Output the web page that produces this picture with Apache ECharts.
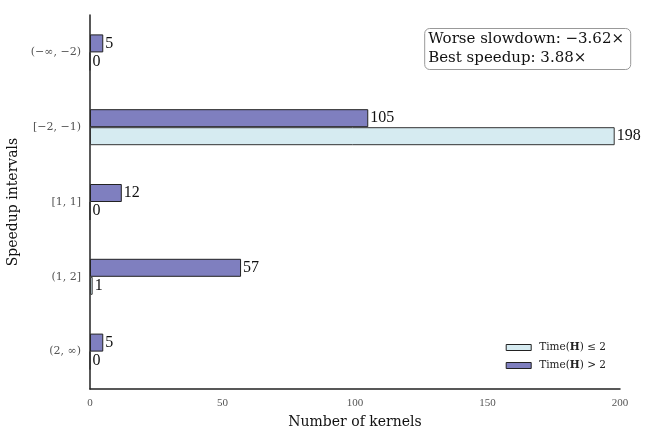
<!DOCTYPE html>
<html><head><meta charset="utf-8">
<script src="https://cdn.jsdelivr.net/npm/echarts@6/dist/echarts.min.js"></script>
<style>html,body{margin:0;padding:0;background:#fff}#c{width:645px;height:434px}</style>
</head><body><div id="c"></div>
<script>
const categories = ['(−∞, −2)', '[−2, −1)', '[1, 1]', '(1, 2]', '(2, ∞)'];
const seriesLow = [0, 198, 0, 1, 0];   // Time(H) <= 2
const seriesHigh = [5, 105, 12, 57, 5]; // Time(H) > 2
const xTicks = [0, 50, 100, 150, 200];
const names = ['Time(H) ≤ 2', 'Time(H) > 2'];

const serif = "'Liberation Serif', 'DejaVu Serif', serif";
const wide = "'DejaVu Serif', 'Liberation Serif', serif";
const chart = echarts.init(document.getElementById('c'), null, {renderer: 'canvas'});
const labelStyle = {show: true, position: 'right', distance: 2, fontFamily: serif, fontSize: 16, color: '#111'};
chart.setOption({
  animation: false,
  backgroundColor: '#fff',
  grid: {left: 90, right: 25, top: 15, bottom: 45, containLabel: false, outerBoundsMode: 'none'},
  title: {
    text: 'Worse slowdown: −3.62×\nBest speedup: 3.88×',
    right: 14, top: 28,
    borderColor: '#999', borderWidth: 1, borderRadius: 5,
    padding: [2, 7, 2, 4],
    textStyle: {fontFamily: wide, fontSize: 15, fontWeight: 'normal', color: '#111', lineHeight: 19}
  },
  legend: {
    data: names, orient: 'vertical', right: 34, bottom: 58,
    icon: 'rect',
    itemWidth: 25, itemHeight: 6, itemGap: 7,
    itemStyle: {borderWidth: 1, borderColor: '#222'},
    formatter: n => n.replace('H', '{b|H}'),
    textStyle: {fontFamily: wide, fontSize: 10.5, color: '#222', padding: [0, 0, 0, 3],
      rich: {b: {fontFamily: wide, fontSize: 10.5, fontWeight: 'bold', color: '#222'}}}
  },
  xAxis: {
    type: 'value', min: 0, max: 200, interval: 50,
    name: 'Number of kernels', nameLocation: 'middle', nameGap: 26,
    nameTextStyle: {fontFamily: wide, fontSize: 14, color: '#111'},
    axisLine: {show: true, lineStyle: {color: '#222', width: 1.5}},
    axisTick: {show: false},
    splitLine: {show: false},
    axisLabel: {fontFamily: serif, fontSize: 11, color: '#555', margin: 9,
      formatter: v => xTicks.includes(v) ? String(v) : ''}
  },
  yAxis: {
    type: 'category', data: categories, inverse: true,
    name: 'Speedup intervals', nameLocation: 'middle', nameGap: 63, nameRotate: 90,
    nameTextStyle: {fontFamily: wide, fontSize: 14, color: '#111'},
    axisLine: {show: true, lineStyle: {color: '#222', width: 1.5}},
    axisTick: {show: false},
    axisLabel: {fontFamily: wide, fontSize: 11, color: '#555', margin: 9}
  },
  series: [
    {name: names[1], type: 'bar', data: seriesHigh, barWidth: 18, barGap: '0%',
     itemStyle: {color: '#7f7fbf', borderColor: '#222', borderWidth: 1}, label: labelStyle},
    {name: names[0], type: 'bar', data: seriesLow, barWidth: 18, barGap: '0%',
     itemStyle: {color: '#d6ebf1', borderColor: '#333', borderWidth: 1}, label: labelStyle}
  ]
});
</script></body></html>
